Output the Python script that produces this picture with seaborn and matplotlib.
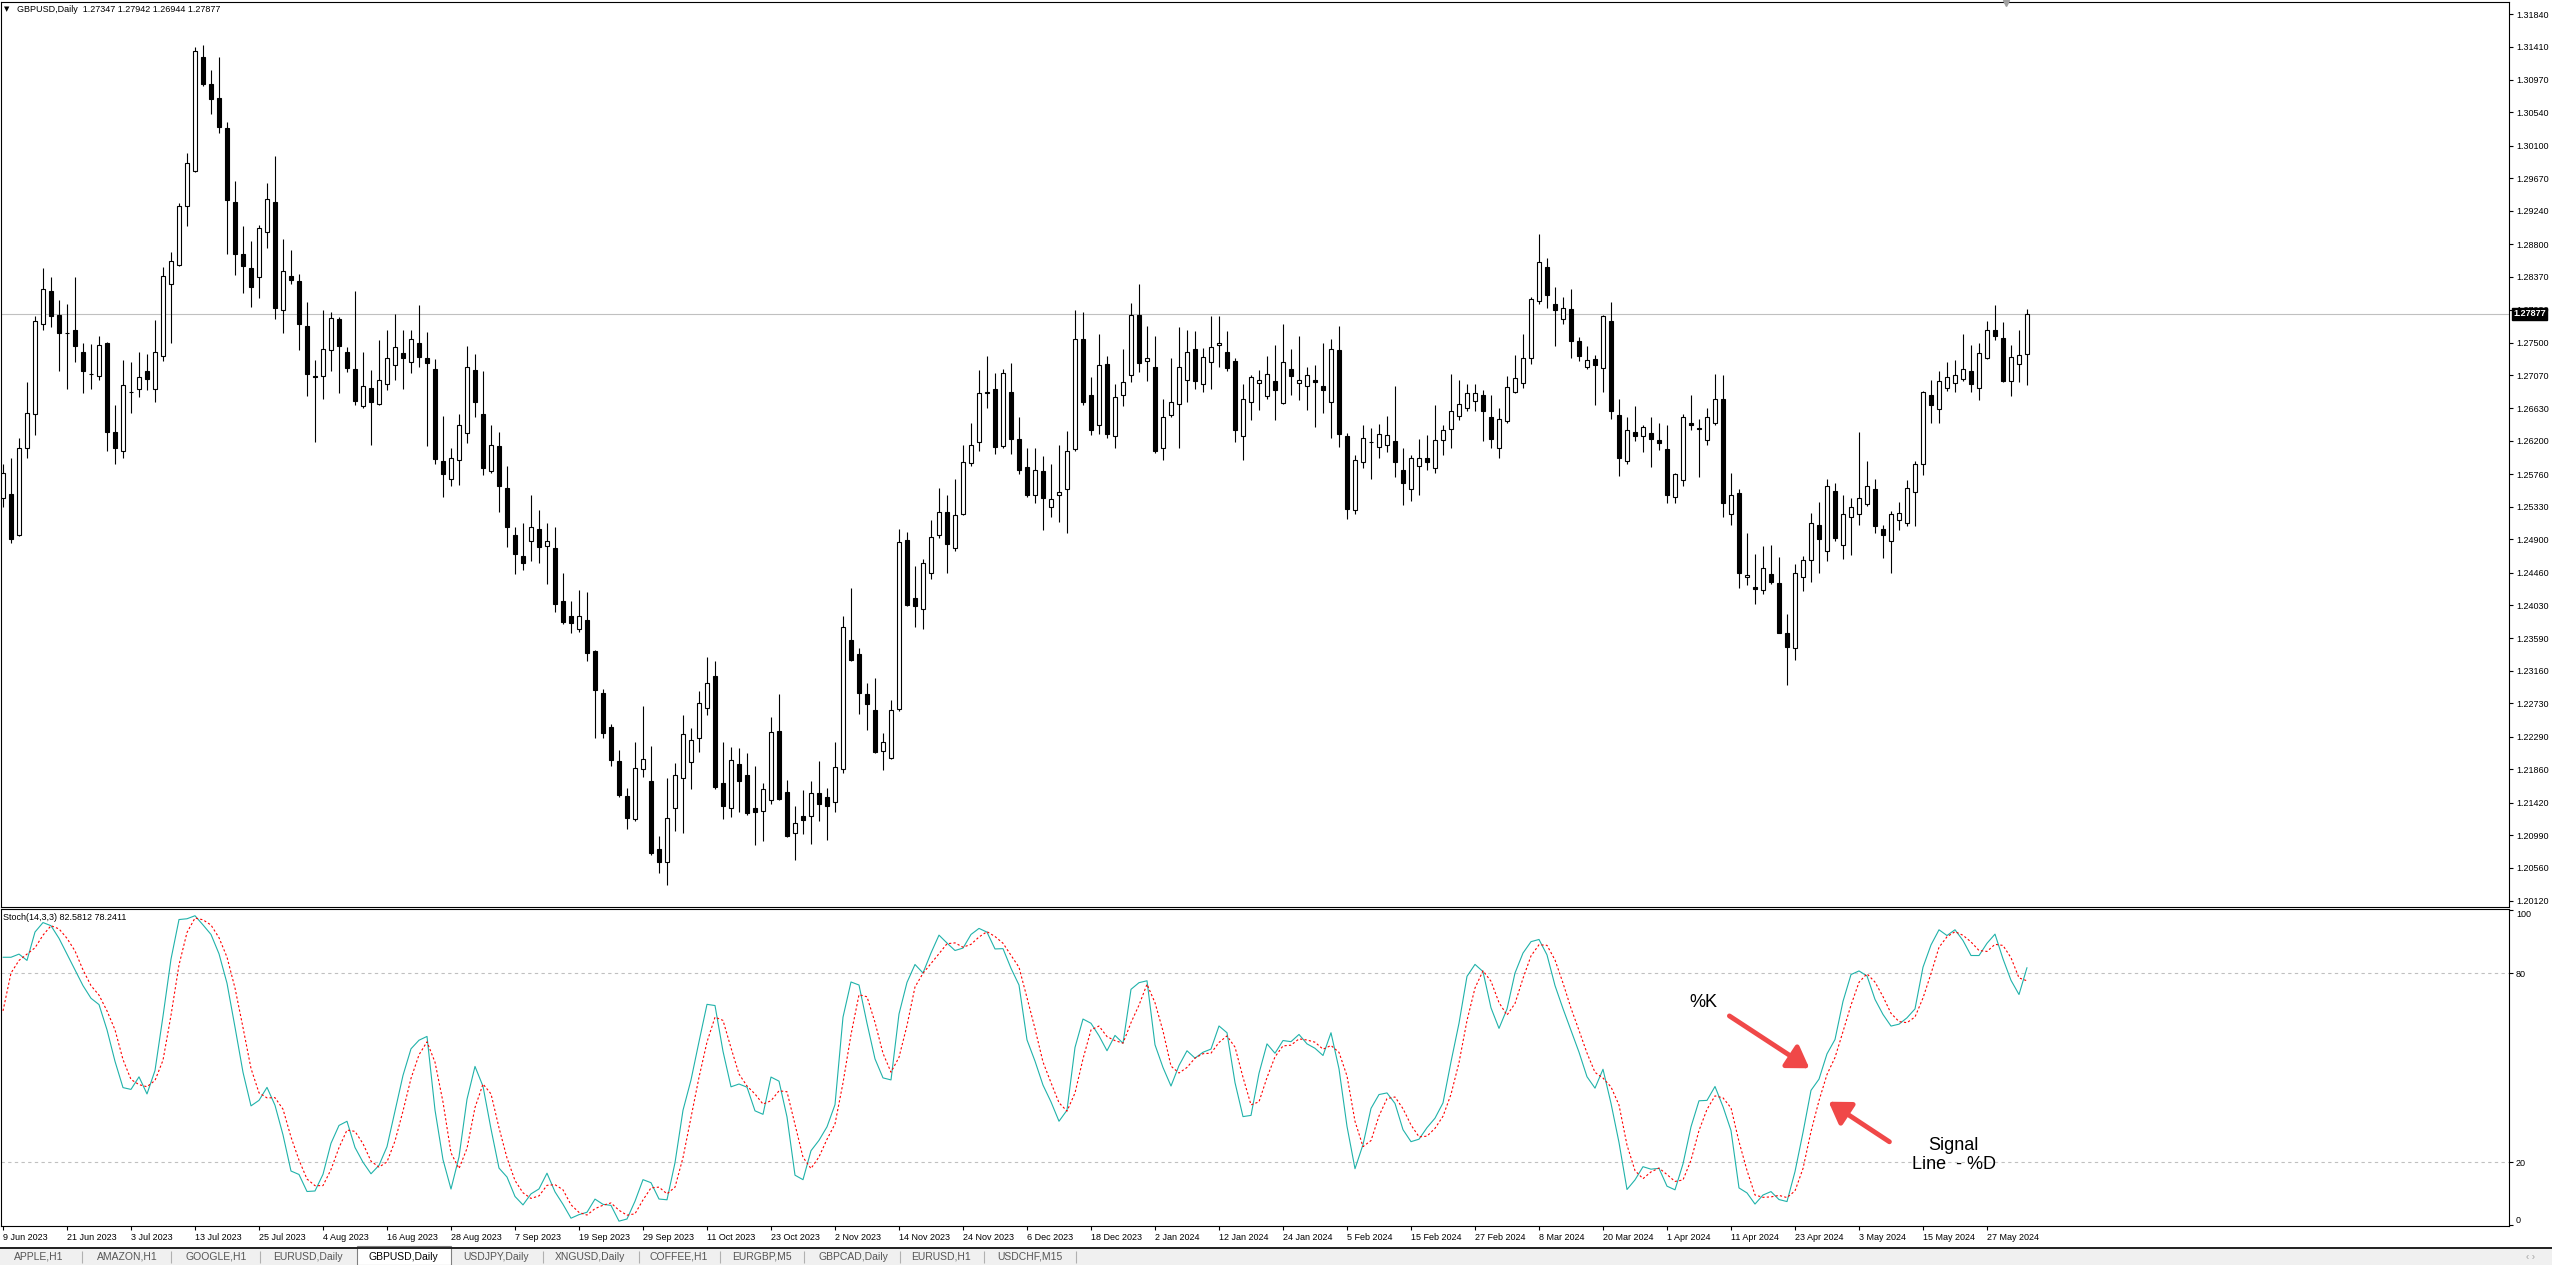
import matplotlib
matplotlib.use("Agg")
import matplotlib.pyplot as plt
import matplotlib.transforms as mtransforms
from matplotlib.patches import Rectangle
import numpy as np
import pandas as pd
import seaborn as sns

# ---- data (GBPUSD daily, 9 Jun 2023 .. end of May 2024) ----
symbol = "GBPUSD,Daily"

opens = [
    1.2544, 1.2550, 1.2496, 1.2610, 1.2655, 1.2775, 1.2818, 1.2786, 1.2763, 1.2767,
    1.2738, 1.2708, 1.2706, 1.2750, 1.2632, 1.2606, 1.2685, 1.2688, 1.2712, 1.2688,
    1.2732, 1.2827, 1.2853, 1.2931, 1.2977, 1.3127, 1.3091, 1.3073, 1.3034, 1.2936,
    1.2867, 1.2848, 1.2837, 1.2896, 1.2936, 1.2793, 1.2838, 1.2831, 1.2772, 1.2706,
    1.2706, 1.2740, 1.2781, 1.2738, 1.2715, 1.2666, 1.2690, 1.2669, 1.2695, 1.2720,
    1.2736, 1.2724, 1.2750, 1.2730, 1.2715, 1.2593, 1.2569, 1.2595, 1.2631, 1.2714,
    1.2655, 1.2580, 1.2613, 1.2558, 1.2495, 1.2468, 1.2488, 1.2504, 1.2481, 1.2479,
    1.2409, 1.2389, 1.2372, 1.2383, 1.2342, 1.2287, 1.2242, 1.2197, 1.2151, 1.2120,
    1.2186, 1.2170, 1.2080, 1.2064, 1.2135, 1.2175, 1.2196, 1.2227, 1.2267, 1.2309,
    1.2168, 1.2135, 1.2193, 1.2179, 1.2135, 1.2131, 1.2146, 1.2237, 1.2156, 1.2102,
    1.2124, 1.2124, 1.2155, 1.2149, 1.2143, 1.2186, 1.2357, 1.2338, 1.2286, 1.2264,
    1.2210, 1.2201, 1.2266, 1.2489, 1.2412, 1.2398, 1.2445, 1.2495, 1.2526, 1.2479,
    1.2523, 1.2591, 1.2618, 1.2683, 1.2688, 1.2613, 1.2684, 1.2622, 1.2585, 1.2549,
    1.2580, 1.2533, 1.2548, 1.2557, 1.2609, 1.2755, 1.2680, 1.2641, 1.2721, 1.2627,
    1.2680, 1.2707, 1.2786, 1.2725, 1.2718, 1.2610, 1.2654, 1.2669, 1.2701, 1.2741,
    1.2695, 1.2724, 1.2747, 1.2737, 1.2725, 1.2627, 1.2672, 1.2696, 1.2679, 1.2699,
    1.2670, 1.2715, 1.2697, 1.2693, 1.2701, 1.2693, 1.2672, 1.2740, 1.2627, 1.2528,
    1.2592, 1.2618, 1.2612, 1.2615, 1.2620, 1.2581, 1.2557, 1.2587, 1.2597, 1.2584,
    1.2621, 1.2636, 1.2653, 1.2663, 1.2673, 1.2681, 1.2652, 1.2611, 1.2646, 1.2685,
    1.2697, 1.2730, 1.2805, 1.2850, 1.2801, 1.2781, 1.2794, 1.2752, 1.2717, 1.2728,
    1.2716, 1.2779, 1.2654, 1.2594, 1.2632, 1.2626, 1.2630, 1.2621, 1.2609, 1.2546,
    1.2568, 1.2644, 1.2637, 1.2621, 1.2644, 1.2675, 1.2524, 1.2551, 1.2440, 1.2427,
    1.2423, 1.2444, 1.2432, 1.2366, 1.2346, 1.2440, 1.2462, 1.2509, 1.2475, 1.2554,
    1.2482, 1.2519, 1.2523, 1.2536, 1.2557, 1.2503, 1.2488, 1.2515, 1.2511, 1.2553,
    1.2590, 1.2680, 1.2662, 1.2690, 1.2696, 1.2702, 1.2713, 1.2690, 1.2729, 1.2767,
    1.2756, 1.2699, 1.2721, 1.27347,
]
highs = [
    1.2590, 1.2598, 1.2624, 1.2698, 1.2785, 1.2849, 1.2837, 1.2806, 1.2801, 1.2837,
    1.2750, 1.2748, 1.2759, 1.2751, 1.2667, 1.2727, 1.2724, 1.2737, 1.2735, 1.2780,
    1.2850, 1.2869, 1.2935, 1.3001, 1.3141, 1.3143, 1.3110, 1.3127, 1.3041, 1.2964,
    1.2904, 1.2884, 1.2905, 1.2961, 1.2996, 1.2887, 1.2872, 1.2841, 1.2804, 1.2727,
    1.2793, 1.2790, 1.2784, 1.2744, 1.2818, 1.2738, 1.2714, 1.2753, 1.2766, 1.2788,
    1.2766, 1.2766, 1.2800, 1.2764, 1.2728, 1.2653, 1.2610, 1.2655, 1.2746, 1.2735,
    1.2712, 1.2641, 1.2632, 1.2587, 1.2506, 1.2512, 1.2548, 1.2529, 1.2511, 1.2506,
    1.2445, 1.2409, 1.2423, 1.2420, 1.2343, 1.2292, 1.2246, 1.2212, 1.2161, 1.2222,
    1.2269, 1.2217, 1.2098, 1.2174, 1.2194, 1.2258, 1.2240, 1.2289, 1.2335, 1.2329,
    1.2222, 1.2215, 1.2214, 1.2208, 1.2190, 1.2168, 1.2255, 1.2286, 1.2172, 1.2137,
    1.2159, 1.2171, 1.2197, 1.2161, 1.2222, 1.2388, 1.2426, 1.2346, 1.2300, 1.2306,
    1.2234, 1.2278, 1.2504, 1.2499, 1.2454, 1.2464, 1.2516, 1.2558, 1.2549, 1.2569,
    1.2615, 1.2644, 1.2714, 1.2732, 1.2710, 1.2715, 1.2723, 1.2651, 1.2611, 1.2611,
    1.2600, 1.2590, 1.2614, 1.2633, 1.2793, 1.2790, 1.2704, 1.2761, 1.2732, 1.2695,
    1.2742, 1.2802, 1.2827, 1.2772, 1.2759, 1.2676, 1.2730, 1.2771, 1.2767, 1.2765,
    1.2743, 1.2785, 1.2785, 1.2765, 1.2729, 1.2695, 1.2707, 1.2714, 1.2732, 1.2747,
    1.2775, 1.2741, 1.2758, 1.2718, 1.2720, 1.2750, 1.2754, 1.2772, 1.2631, 1.2602,
    1.2641, 1.2637, 1.2642, 1.2653, 1.2693, 1.2610, 1.2601, 1.2622, 1.2628, 1.2668,
    1.2641, 1.2709, 1.2701, 1.2695, 1.2695, 1.2687, 1.2681, 1.2663, 1.2706, 1.2733,
    1.2761, 1.2810, 1.2893, 1.2862, 1.2824, 1.2810, 1.2821, 1.2757, 1.2746, 1.2733,
    1.2787, 1.2803, 1.2675, 1.2652, 1.2666, 1.2641, 1.2652, 1.2644, 1.2641, 1.2578,
    1.2655, 1.2681, 1.2649, 1.2663, 1.2709, 1.2707, 1.2578, 1.2556, 1.2498, 1.2470,
    1.2481, 1.2483, 1.2466, 1.2391, 1.2457, 1.2468, 1.2525, 1.2539, 1.2569, 1.2564,
    1.2549, 1.2544, 1.2632, 1.2594, 1.2570, 1.2509, 1.2527, 1.2539, 1.2568, 1.2594,
    1.2686, 1.2700, 1.2712, 1.2724, 1.2727, 1.2761, 1.2747, 1.2750, 1.2778, 1.2800,
    1.2777, 1.2747, 1.2766, 1.27942,
]
lows = [
    1.2533, 1.2485, 1.2494, 1.2598, 1.2628, 1.2767, 1.2770, 1.2712, 1.2689, 1.2724,
    1.2683, 1.2688, 1.2701, 1.2606, 1.2589, 1.2598, 1.2657, 1.2678, 1.2687, 1.2672,
    1.2725, 1.2750, 1.2851, 1.2904, 1.2975, 1.3089, 1.3052, 1.3027, 1.2867, 1.2839,
    1.2816, 1.2797, 1.2809, 1.2875, 1.2781, 1.2762, 1.2827, 1.2740, 1.2679, 1.2618,
    1.2675, 1.2712, 1.2683, 1.2711, 1.2668, 1.2664, 1.2615, 1.2667, 1.2687, 1.2701,
    1.2689, 1.2710, 1.2718, 1.2613, 1.2589, 1.2546, 1.2561, 1.2562, 1.2617, 1.2652,
    1.2575, 1.2578, 1.2526, 1.2480, 1.2444, 1.2449, 1.2461, 1.2458, 1.2431, 1.2394,
    1.2378, 1.2366, 1.2368, 1.2329, 1.2228, 1.2228, 1.2190, 1.2150, 1.2107, 1.2117,
    1.2176, 1.2073, 1.2049, 1.2033, 1.2105, 1.2102, 1.2160, 1.2209, 1.2258, 1.2160,
    1.2120, 1.2123, 1.2130, 1.2126, 1.2086, 1.2091, 1.2140, 1.2145, 1.2096, 1.2066,
    1.2101, 1.2087, 1.2117, 1.2092, 1.2129, 1.2181, 1.2329, 1.2259, 1.2238, 1.2207,
    1.2185, 1.2199, 1.2263, 1.2402, 1.2374, 1.2372, 1.2438, 1.2492, 1.2446, 1.2474,
    1.2522, 1.2587, 1.2606, 1.2664, 1.2603, 1.2610, 1.2603, 1.2576, 1.2546, 1.2538,
    1.2502, 1.2519, 1.2513, 1.2498, 1.2607, 1.2667, 1.2628, 1.2629, 1.2624, 1.2610,
    1.2666, 1.2698, 1.2711, 1.2699, 1.2604, 1.2595, 1.2652, 1.2610, 1.2672, 1.2689,
    1.2684, 1.2689, 1.2718, 1.2712, 1.2618, 1.2595, 1.2647, 1.2661, 1.2676, 1.2647,
    1.2669, 1.2681, 1.2674, 1.2661, 1.2638, 1.2657, 1.2624, 1.2612, 1.2517, 1.2524,
    1.2584, 1.2569, 1.2598, 1.2605, 1.2572, 1.2535, 1.2541, 1.2549, 1.2582, 1.2578,
    1.2602, 1.2611, 1.2647, 1.2659, 1.2659, 1.2620, 1.2611, 1.2598, 1.2643, 1.2683,
    1.2690, 1.2721, 1.2801, 1.2795, 1.2745, 1.2775, 1.2730, 1.2725, 1.2715, 1.2667,
    1.2684, 1.2649, 1.2574, 1.2589, 1.2620, 1.2605, 1.2585, 1.2608, 1.2538, 1.2538,
    1.2561, 1.2634, 1.2572, 1.2614, 1.2641, 1.2519, 1.2509, 1.2425, 1.2429, 1.2404,
    1.2418, 1.2431, 1.2366, 1.2297, 1.2330, 1.2421, 1.2434, 1.2446, 1.2461, 1.2488,
    1.2464, 1.2469, 1.2509, 1.2534, 1.2498, 1.2465, 1.2445, 1.2502, 1.2508, 1.2507,
    1.2575, 1.2643, 1.2643, 1.2686, 1.2685, 1.2699, 1.2684, 1.2674, 1.2728, 1.2753,
    1.2698, 1.2679, 1.2698, 1.26944,
]
closes = [
    1.2577, 1.2490, 1.2610, 1.2657, 1.2779, 1.2821, 1.2785, 1.2762, 1.2762, 1.2745,
    1.2713, 1.2708, 1.2747, 1.2632, 1.2611, 1.2694, 1.2685, 1.2705, 1.2702, 1.2737,
    1.2838, 1.2858, 1.2931, 1.2987, 1.3135, 1.3091, 1.3072, 1.3035, 1.2938, 1.2867,
    1.2851, 1.2824, 1.2901, 1.2939, 1.2795, 1.2845, 1.2833, 1.2774, 1.2708, 1.2705,
    1.2742, 1.2782, 1.2745, 1.2716, 1.2673, 1.2692, 1.2672, 1.2701, 1.2730, 1.2744,
    1.2730, 1.2755, 1.2731, 1.2723, 1.2596, 1.2576, 1.2598, 1.2641, 1.2718, 1.2672,
    1.2584, 1.2615, 1.2561, 1.2506, 1.2470, 1.2459, 1.2506, 1.2480, 1.2488, 1.2404,
    1.2380, 1.2379, 1.2389, 1.2340, 1.2291, 1.2234, 1.2198, 1.2152, 1.2122, 1.2188,
    1.2200, 1.2075, 1.2064, 1.2122, 1.2179, 1.2233, 1.2225, 1.2274, 1.2300, 1.2162,
    1.2137, 1.2198, 1.2170, 1.2128, 1.2130, 1.2160, 1.2235, 1.2147, 1.2098, 1.2115,
    1.2119, 1.2155, 1.2140, 1.2138, 1.2189, 1.2374, 1.2331, 1.2287, 1.2272, 1.2209,
    1.2222, 1.2265, 1.2487, 1.2403, 1.2402, 1.2458, 1.2493, 1.2526, 1.2484, 1.2522,
    1.2592, 1.2615, 1.2683, 1.2684, 1.2612, 1.2710, 1.2622, 1.2581, 1.2548, 1.2581,
    1.2545, 1.2543, 1.2552, 1.2607, 1.2755, 1.2671, 1.2635, 1.2720, 1.2629, 1.2678,
    1.2698, 1.2787, 1.2723, 1.2730, 1.2606, 1.2652, 1.2672, 1.2718, 1.2737, 1.2699,
    1.2731, 1.2744, 1.2750, 1.2716, 1.2634, 1.2675, 1.2704, 1.2701, 1.2708, 1.2687,
    1.2724, 1.2706, 1.2700, 1.2707, 1.2698, 1.2687, 1.2742, 1.2629, 1.2530, 1.2595,
    1.2624, 1.2619, 1.2629, 1.2628, 1.2592, 1.2564, 1.2598, 1.2598, 1.2592, 1.2621,
    1.2635, 1.2659, 1.2669, 1.2683, 1.2683, 1.2659, 1.2623, 1.2649, 1.2691, 1.2703,
    1.2730, 1.2807, 1.2856, 1.2813, 1.2793, 1.2796, 1.2752, 1.2732, 1.2727, 1.2720,
    1.2785, 1.2659, 1.2598, 1.2635, 1.2627, 1.2638, 1.2622, 1.2617, 1.2549, 1.2576,
    1.2651, 1.2641, 1.2636, 1.2652, 1.2676, 1.2538, 1.2549, 1.2446, 1.2443, 1.2424,
    1.2452, 1.2434, 1.2366, 1.2347, 1.2446, 1.2462, 1.2512, 1.2490, 1.2560, 1.2491,
    1.2524, 1.2532, 1.2544, 1.2560, 1.2507, 1.2496, 1.2523, 1.2525, 1.2558, 1.2590,
    1.2684, 1.2667, 1.2699, 1.2705, 1.2707, 1.2715, 1.2695, 1.2736, 1.2767, 1.2759,
    1.2699, 1.2731, 1.2733, 1.27877,
]

# The first bars of the oscillator depend on history left of the window,
# so those values are read straight off the lower pane.
k_first = [85, 85, 86, 84, 93, 96, 95, 91, 86, 81, 76, 72, 70, 62, 52]
d_first = [68, 80, 84, 86, 88, 92, 95, 94, 91, 87, 81, 76, 73, 68, 62]

# one date label every 8 bars, starting at the first bar
date_labels = [
    "9 Jun 2023", "21 Jun 2023", "3 Jul 2023", "13 Jul 2023", "25 Jul 2023",
    "4 Aug 2023", "16 Aug 2023", "28 Aug 2023", "7 Sep 2023", "19 Sep 2023",
    "29 Sep 2023", "11 Oct 2023", "23 Oct 2023", "2 Nov 2023", "14 Nov 2023",
    "24 Nov 2023", "6 Dec 2023", "18 Dec 2023", "2 Jan 2024", "12 Jan 2024",
    "24 Jan 2024", "5 Feb 2024", "15 Feb 2024", "27 Feb 2024", "8 Mar 2024",
    "20 Mar 2024", "1 Apr 2024", "11 Apr 2024", "23 Apr 2024", "3 May 2024",
    "15 May 2024", "27 May 2024",
]
label_every = 8

price_ticks = [
    1.31840, 1.31410, 1.30970, 1.30540, 1.30100, 1.29670, 1.29240, 1.28800,
    1.28370, 1.27930, 1.27500, 1.27070, 1.26630, 1.26200, 1.25760, 1.25330,
    1.24900, 1.24460, 1.24030, 1.23590, 1.23160, 1.22730, 1.22290, 1.21860,
    1.21420, 1.20990, 1.20560, 1.20120,
]

stoch_ticks = [0, 20, 80, 100]
stoch_levels = [20, 80]
stoch_header = "Stoch(14,3,3) 82.5812 78.2411"
k_period, slowing, d_period = 14, 3, 3

tab_names = ["APPLE,H1", "AMAZON,H1", "GOOGLE,H1", "EURUSD,Daily", "GBPUSD,Daily",
             "USDJPY,Daily", "XNGUSD,Daily", "COFFEE,H1", "EURGBP,M5",
             "GBPCAD,Daily", "EURUSD,H1", "USDCHF,M15"]
active_tab = "GBPUSD,Daily"

assert len(opens) == len(highs) == len(lows) == len(closes)

# ---- frame ----
df = pd.DataFrame({"open": opens, "high": highs, "low": lows, "close": closes})
df["bar"] = np.arange(len(df))
df["up"] = df["close"] >= df["open"]
df["body_lo"] = df[["open", "close"]].min(axis=1)
df["body_h"] = (df["close"] - df["open"]).abs()

# slow stochastic, MT4 style
ll = df["low"].rolling(k_period, min_periods=1).min()
hh = df["high"].rolling(k_period, min_periods=1).max()
num = (df["close"] - ll).rolling(slowing, min_periods=1).sum()
den = (hh - ll).rolling(slowing, min_periods=1).sum()
df["k"] = 100 * num / den
df.loc[: len(k_first) - 1, "k"] = k_first
df["d"] = df["k"].rolling(d_period, min_periods=1).mean()
df.loc[: len(d_first) - 1, "d"] = d_first

sns.set_style("ticks", {"axes.edgecolor": "black", "xtick.color": "black",
                        "ytick.color": "black", "text.color": "black",
                        "axes.labelcolor": "black"})
plt.rcParams["font.family"] = ["Liberation Sans", "DejaVu Sans"]
plt.rcParams["axes.linewidth"] = 0.8

W, H = 2552, 1265
fig = plt.figure(figsize=(W / 100, H / 100), dpi=100, facecolor="white")


def px_box(left, top, right, bottom):
    return [left / W, 1 - bottom / H, (right - left) / W, (bottom - top) / H]


ax = fig.add_axes(px_box(1, 2, 2509, 907))
ax2 = fig.add_axes(px_box(1, 909, 2509, 1226))
ui = fig.add_axes([0, 0, 1, 1], zorder=5)
ui.set_xlim(0, W)
ui.set_ylim(H, 0)
ui.axis("off")

xlim = (-0.25, 313.25)

# ---- candles ----
ax.vlines(df["bar"], df["low"], df["high"], color="black", lw=0.8, zorder=2)
up = df[df["up"]]
dn = df[~df["up"]]
ax.bar(up["bar"], up["body_h"], bottom=up["body_lo"], width=0.55,
       color="white", edgecolor="black", linewidth=0.8, zorder=3)
ax.bar(dn["bar"], dn["body_h"], bottom=dn["body_lo"], width=0.55,
       color="black", edgecolor="black", linewidth=0.8, zorder=3)

last_close = closes[-1]
ax.axhline(last_close, color="#c0c0c0", lw=0.8, zorder=1)
ax.annotate(f"{last_close:.5f}", xy=(1.0, last_close),
            xycoords=mtransforms.blended_transform_factory(ax.transAxes, ax.transData),
            xytext=(3, 0), textcoords="offset points", ha="left", va="center",
            fontsize=6.5, color="white", fontweight="bold", annotation_clip=False,
            bbox=dict(boxstyle="square,pad=0.15", fc="black", ec="black"), zorder=10)

ax.set_xlim(*xlim)
ax.set_ylim(1.2004, 1.3200)
ax.yaxis.tick_right()
ax.set_yticks(price_ticks)
ax.set_yticklabels([f"{p:.5f}" for p in price_ticks])
ax.tick_params(axis="y", length=3, width=0.8, pad=2, labelsize=6.5)
ax.tick_params(axis="x", bottom=False, labelbottom=False)
for s in ax.spines.values():
    s.set_linewidth(0.8)

# ---- stochastic pane ----
for lv in stoch_levels:
    ax2.axhline(lv, color="#c0c0c0", lw=0.8, ls=(0, (3, 3)), zorder=1)
sns.lineplot(data=df, x="bar", y="k", ax=ax2, color="#20b2aa", lw=0.8,
             errorbar=None, zorder=3)
sns.lineplot(data=df, x="bar", y="d", ax=ax2, color="red", lw=0.8,
             linestyle=(0, (2, 2)), errorbar=None, zorder=4)
ax2.set_xlabel("")
ax2.set_ylabel("")
ax2.set_xlim(*xlim)
ax2.set_ylim(-0.2, 100.3)
ax2.yaxis.tick_right()
ax2.set_yticks(stoch_ticks)
ax2.set_yticklabels([str(t) for t in stoch_ticks])
for lab in ax2.get_yticklabels():
    if lab.get_text() == "100":
        lab.set_va("top")
    elif lab.get_text() == "0":
        lab.set_va("bottom")
ax2.tick_params(axis="y", length=3, width=0.8, pad=2, labelsize=6.5)
ax2.set_xticks(range(0, label_every * len(date_labels), label_every))
ax2.set_xticklabels(date_labels, ha="left")
ax2.tick_params(axis="x", bottom=True, length=3, width=0.8, pad=2, labelsize=6.5)
for s in ax2.spines.values():
    s.set_linewidth(0.8)

# callouts
arrow_kw = dict(arrowstyle="-|>,head_length=0.7,head_width=0.45", color="#f04848",
                lw=3.5, mutation_scale=18, shrinkA=0, shrinkB=0, capstyle="round")
ax2.annotate("", xy=(225.8, 49.8), xytext=(215.8, 66.4), arrowprops=arrow_kw, zorder=6)
ax2.text(212.5, 70.5, "%K", ha="center", va="center", fontsize=13, zorder=6)
ax2.annotate("", xy=(228.2, 39.2), xytext=(235.8, 26.5), arrowprops=arrow_kw, zorder=6)
ax2.text(243.85, 22.3, "Signal\nLine  - %D", ha="center", va="center",
         fontsize=13, linespacing=1.15, zorder=6)

# ---- terminal chrome ----
o, h, l, c = opens[-1], highs[-1], lows[-1], closes[-1]
ui.text(4, 9, "\u25bc", fontsize=5, family="DejaVu Sans", va="center")
ui.text(17, 9.5, f"{symbol}  {o:.5f} {h:.5f} {l:.5f} {c:.5f}", fontsize=6.5, va="center")
ui.text(3, 918, stoch_header, fontsize=6.5, va="center")
ui.plot(2006, 3, marker="v", ms=4, color="#a0a0a0")

ui.add_patch(Rectangle((0, 1247), W, 18, fc="#f0f0f0", ec="none"))
ui.plot([0, W], [1247.5, 1247.5], color="#202020", lw=1.4)
tab_centers = [39, 127, 216, 308, 403, 496, 590, 679, 762, 853, 941, 1030]
tab_seps = [82, 171, 260, 543, 639, 720, 804, 900, 984, 1076]
ui.add_patch(Rectangle((357, 1246), 94, 19, fc="white", ec="#808080", lw=0.8))
ui.vlines(tab_seps, 1251, 1263, color="#b0b0b0", lw=0.8)
for name, xc in zip(tab_names, tab_centers):
    ui.text(xc, 1256.5, name, ha="center", va="center", fontsize=7.5,
            color="black" if name == active_tab else "#555555")
ui.text(2530, 1256.5, "\u2039 \u203a", ha="center", va="center", fontsize=7, color="#a0a0a0")

fig.savefig("out.png", dpi=100, facecolor="white")
